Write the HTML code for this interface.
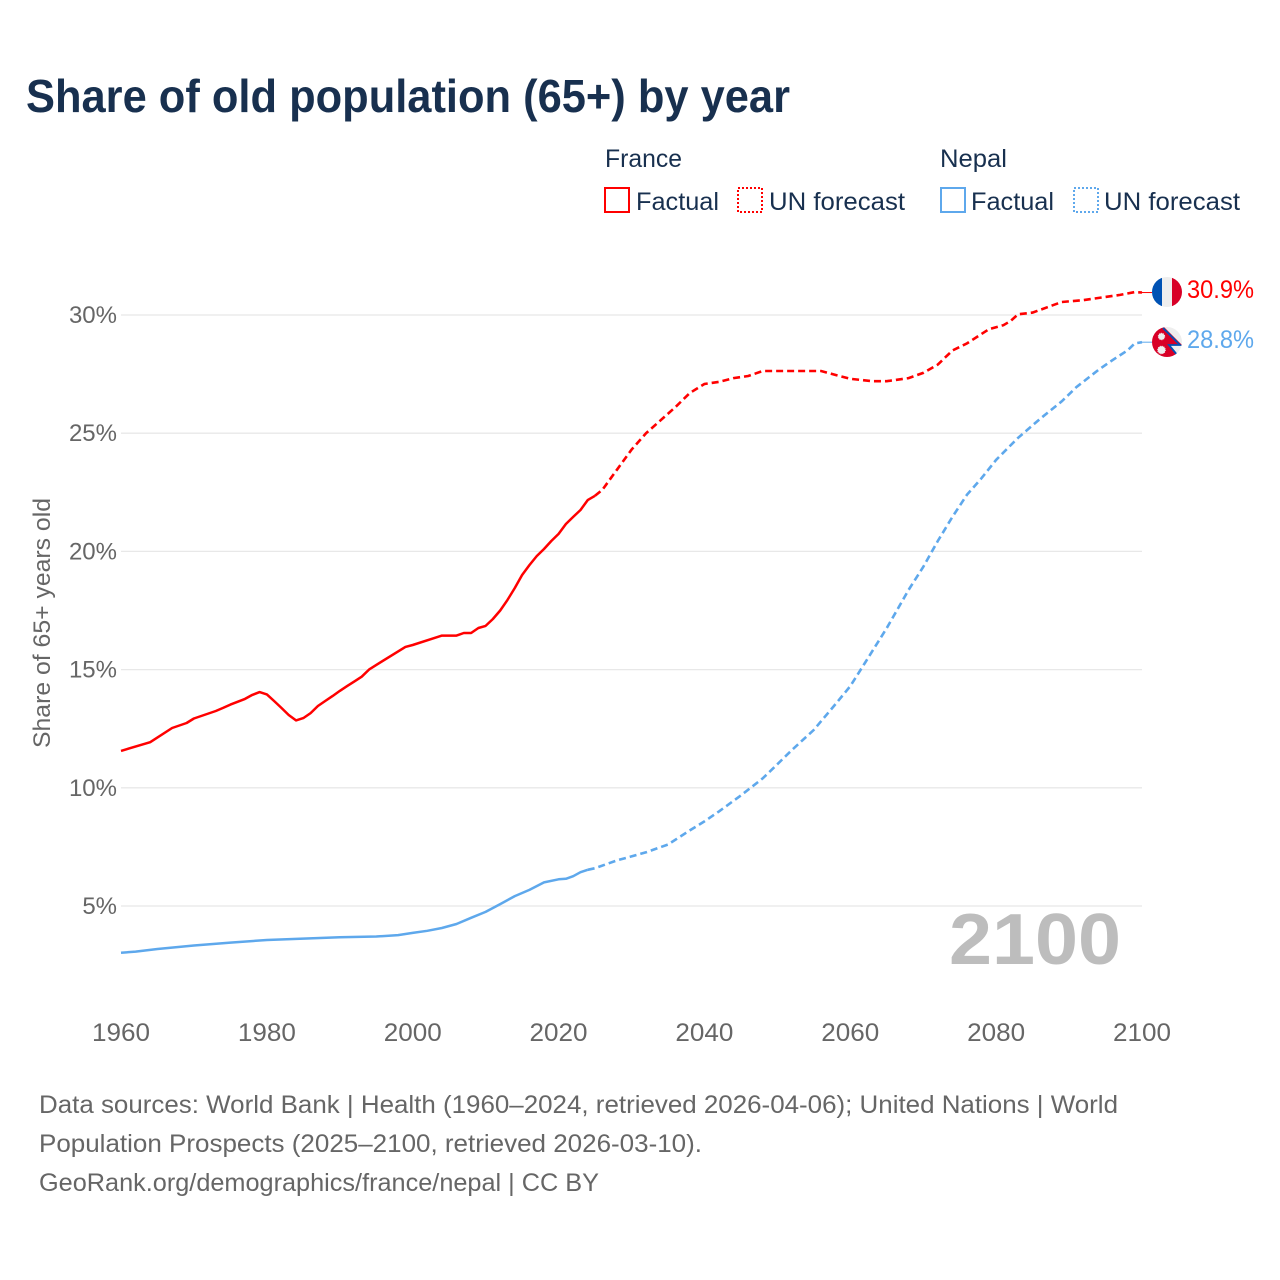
<!DOCTYPE html>
<html lang="en">
<head>
<meta charset="utf-8">
<title>Share of old population (65+) by year</title>
<style>
html,body{margin:0;padding:0;background:#fff}
svg{display:block;font-family:"Liberation Sans",sans-serif}
</style>
</head>
<body>
<svg id="chart" width="1280" height="1280" viewBox="0 0 1280 1280" xmlns="http://www.w3.org/2000/svg">
  <rect width="1280" height="1280" fill="#fff"/>
  <text x="26" y="112" font-size="46" font-weight="700" fill="#18304f" textLength="764" lengthAdjust="spacingAndGlyphs">Share of old population (65+) by year</text>

  <g id="legend" font-size="25" fill="#18304f">
    <text x="605" y="167" textLength="77" lengthAdjust="spacingAndGlyphs">France</text>
    <rect x="605" y="188" width="24" height="24" fill="none" stroke="#ff0000" stroke-width="2"/>
    <text x="636" y="210" textLength="83" lengthAdjust="spacingAndGlyphs">Factual</text>
    <rect x="738" y="188" width="24" height="24" fill="none" stroke="#ff0000" stroke-width="2" stroke-dasharray="2 2"/>
    <text x="769" y="210" textLength="136" lengthAdjust="spacingAndGlyphs">UN forecast</text>
    <text x="940" y="167" textLength="67" lengthAdjust="spacingAndGlyphs">Nepal</text>
    <rect x="941" y="188" width="24" height="24" fill="none" stroke="#5ea8ec" stroke-width="2"/>
    <text x="971" y="210" textLength="83" lengthAdjust="spacingAndGlyphs">Factual</text>
    <rect x="1074" y="188" width="24" height="24" fill="none" stroke="#5ea8ec" stroke-width="2" stroke-dasharray="2 2"/>
    <text x="1104" y="210" textLength="136" lengthAdjust="spacingAndGlyphs">UN forecast</text>
  </g>

  <g id="grid"></g>
  <g id="yticks"></g>
  <g id="xticks"></g>

  <text transform="translate(50,623) rotate(-90)" text-anchor="middle" font-size="24" fill="#666" textLength="250" lengthAdjust="spacingAndGlyphs">Share of 65+ years old</text>

  <text x="949" y="964" font-size="72" font-weight="700" fill="#bdbdbd" textLength="172" lengthAdjust="spacingAndGlyphs">2100</text>

  <g id="series"></g>

  <g id="flag-france">
    <defs>
      <clipPath id="clip-fr"><circle cx="1167" cy="292" r="15"/></clipPath>
      <clipPath id="clip-np"><circle cx="1167" cy="342" r="15"/></clipPath>
    </defs>
    <g clip-path="url(#clip-fr)">
      <rect x="1152" y="277" width="30" height="30" fill="#eeeeee"/>
      <rect x="1152" y="277" width="10" height="30" fill="#0052b4"/>
      <rect x="1172" y="277" width="10" height="30" fill="#d80027"/>
    </g>
  </g>
  <g id="flag-nepal">
    <g clip-path="url(#clip-np)">
      <rect x="1152" y="327" width="30" height="30" fill="#eeeeee"/>
      <polygon points="1152,325 1162,325 1182,345 1169,345 1180,359 1152,359" fill="#d80027"/>
      <polyline points="1163,328 1180,345 1169,345 1178,356" fill="none" stroke="#0052b4" stroke-width="1.8"/>
      <circle cx="1161.5" cy="336.5" r="3.2" fill="#eeeeee" stroke="#eeeeee" stroke-width="1" stroke-dasharray="1 1"/>
      <circle cx="1161.5" cy="350" r="3.8" fill="#eeeeee" stroke="#eeeeee" stroke-width="1" stroke-dasharray="1 1"/>
    </g>
  </g>
  <text x="1187" y="298" font-size="25" fill="#ff0000" textLength="67" lengthAdjust="spacingAndGlyphs">30.9%</text>
  <text x="1187" y="348" font-size="25" fill="#5ea8ec" textLength="67" lengthAdjust="spacingAndGlyphs">28.8%</text>

  <g font-size="25" fill="#666">
    <text x="39" y="1113" textLength="1079" lengthAdjust="spacingAndGlyphs">Data sources: World Bank | Health (1960–2024, retrieved 2026-04-06); United Nations | World</text>
    <text x="39" y="1152" textLength="663" lengthAdjust="spacingAndGlyphs">Population Prospects (2025–2100, retrieved 2026-03-10).</text>
    <text x="39" y="1191" textLength="560" lengthAdjust="spacingAndGlyphs">GeoRank.org/demographics/france/nepal | CC BY</text>
  </g>
</svg>
<script>
const yTickValues = [5, 10, 15, 20, 25, 30];
const xTickValues = [1960, 1980, 2000, 2020, 2040, 2060, 2080, 2100];

const franceFactualYears = [1960,1964,1967,1969,1970,1973,1974,1975,1977,1978,1979,1980,1981,1982,1983,1984,1985,1986,1987,1988,1989,1990,1991,1992,1993,1994,1995,1999,2000,2004,2006,2007,2008,2009,2010,2011,2012,2013,2014,2015,2016,2017,2018,2019,2020,2021,2022,2023,2024,2025];
const franceFactualValues = [11.56,11.93,12.53,12.74,12.93,13.25,13.38,13.52,13.76,13.93,14.05,13.95,13.67,13.38,13.08,12.85,12.95,13.16,13.46,13.67,13.88,14.1,14.3,14.5,14.7,15.0,15.2,15.96,16.04,16.44,16.44,16.55,16.55,16.76,16.85,17.14,17.5,17.95,18.45,19.0,19.42,19.8,20.1,20.44,20.74,21.16,21.46,21.75,22.17,22.35];
const franceForecastYears = [2025,2026,2028,2030,2032,2034,2036,2038,2040,2042,2044,2046,2048,2050,2053,2056,2058,2060,2063,2065,2068,2070,2072,2074,2076,2079,2081,2082,2083,2085,2089,2092,2094,2097,2099,2100];
const franceForecastValues = [22.35,22.6,23.45,24.3,25.0,25.55,26.1,26.7,27.08,27.17,27.33,27.42,27.63,27.63,27.63,27.63,27.46,27.3,27.2,27.2,27.33,27.55,27.9,28.5,28.8,29.4,29.57,29.75,30.03,30.1,30.55,30.63,30.72,30.85,30.97,30.95];
const nepalFactualYears = [1960,1962,1965,1970,1975,1980,1985,1990,1995,1998,2000,2002,2004,2006,2008,2010,2012,2014,2016,2018,2020,2021,2022,2023,2024];
const nepalFactualValues = [3.02,3.07,3.18,3.33,3.45,3.56,3.62,3.68,3.71,3.77,3.86,3.95,4.07,4.24,4.5,4.75,5.08,5.42,5.68,6.0,6.13,6.15,6.26,6.43,6.53];
const nepalForecastYears = [2024,2025,2028,2030,2032,2035,2038,2040,2042,2045,2048,2050,2052,2055,2058,2060,2062,2065,2068,2070,2072,2074,2076,2078,2080,2083,2086,2089,2091,2094,2096,2098,2099,2100];
const nepalForecastValues = [6.53,6.6,6.93,7.1,7.27,7.6,8.2,8.58,9.0,9.68,10.4,11.0,11.6,12.45,13.55,14.3,15.28,16.76,18.37,19.34,20.44,21.46,22.4,23.1,23.87,24.8,25.6,26.35,26.95,27.67,28.1,28.5,28.8,28.85];

const NS = 'http://www.w3.org/2000/svg';
const xScale = function (year) { return 121 + (year - 1960) * (1142 - 121) / 140; };
const yScale = function (pct) { return 906 - (pct - 5) * (906 - 315) / 25; };

const gridGroup = document.getElementById('grid');
const yTickGroup = document.getElementById('yticks');
const xTickGroup = document.getElementById('xticks');
const seriesGroup = document.getElementById('series');

yTickValues.forEach(function (v) {
  const line = document.createElementNS(NS, 'line');
  
  
  line.setAttribute('x1', 121);
  line.setAttribute('x2', 1142);
  line.setAttribute('y1', yScale(v));
  line.setAttribute('y2', yScale(v));
  line.setAttribute('stroke', '#e8e8e8');
  line.setAttribute('stroke-width', 1.3);
  gridGroup.appendChild(line);

  const label = document.createElementNS(NS, 'text');
  
  
  label.setAttribute('x', 117);
  label.setAttribute('y', yScale(v) + 8);
  label.setAttribute('text-anchor', 'end');
  label.setAttribute('font-size', 24);
  label.setAttribute('fill', '#666');
  label.textContent = v + '%';
  yTickGroup.appendChild(label);
});

xTickValues.forEach(function (v) {
  const label = document.createElementNS(NS, 'text');
  
  
  label.setAttribute('x', xScale(v));
  label.setAttribute('y', 1041);
  label.setAttribute('text-anchor', 'middle');
  label.setAttribute('font-size', 25);
  label.setAttribute('textLength', 58);
  label.setAttribute('lengthAdjust', 'spacingAndGlyphs');
  label.setAttribute('fill', '#666');
  label.textContent = v;
  xTickGroup.appendChild(label);
});

function pathFrom(years, values) {
  return years.map(function (y, i) {
    return (i ? 'L' : 'M') + xScale(y).toFixed(1) + ' ' + yScale(values[i]).toFixed(1);
  }).join(' ');
}

function addFactual(years, values, color, name) {
  const p = document.createElementNS(NS, 'path');
  
  
  p.setAttribute('d', pathFrom(years, values));
  p.setAttribute('fill', 'none');
  p.setAttribute('stroke', color);
  p.setAttribute('stroke-width', 2.5);
  p.setAttribute('stroke-linejoin', 'round');
  seriesGroup.appendChild(p);
}

function addForecast(years, values, color, name) {
  const p = document.createElementNS(NS, 'path');
  
  
  p.setAttribute('d', pathFrom(years, values));
  p.setAttribute('fill', 'none');
  p.setAttribute('stroke', color);
  p.setAttribute('stroke-width', 2.6);
  p.setAttribute('stroke-dasharray', '7 4');
  seriesGroup.appendChild(p);
}

function addConnector(years, values, color, name) {
  const last = years.length - 1;
  const c = document.createElementNS(NS, 'line');
  
  
  c.setAttribute('x1', xScale(years[last]));
  c.setAttribute('x2', xScale(years[last]) + 12);
  c.setAttribute('y1', yScale(values[last]));
  c.setAttribute('y2', yScale(values[last]));
  c.setAttribute('stroke', color);
  c.setAttribute('stroke-width', 1);
  seriesGroup.appendChild(c);
}

addFactual(franceFactualYears, franceFactualValues, '#ff0000', 'france-factual-line');
addForecast(franceForecastYears, franceForecastValues, '#ff0000', 'france-forecast-line');
addConnector(franceForecastYears, franceForecastValues, '#ff0000', 'france-flag-connector');
addFactual(nepalFactualYears, nepalFactualValues, '#5ea8ec', 'nepal-factual-line');
addForecast(nepalForecastYears, nepalForecastValues, '#5ea8ec', 'nepal-forecast-line');
addConnector(nepalForecastYears, nepalForecastValues, '#5ea8ec', 'nepal-flag-connector');
</script>
</body>
</html>
